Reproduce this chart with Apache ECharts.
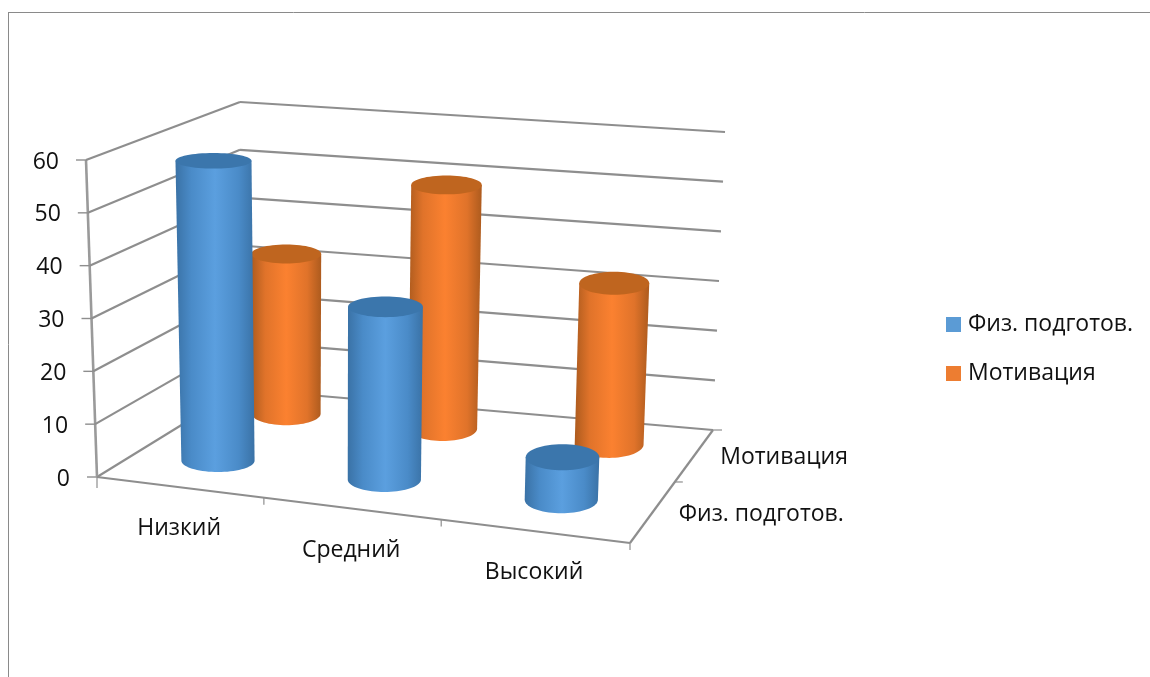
<!DOCTYPE html>
<html>
<head>
<meta charset="utf-8">
<style>html,body{margin:0;padding:0;background:#fff}#c{width:1150px;height:677px}</style>
<script src="https://cdn.jsdelivr.net/npm/echarts@6/dist/echarts.min.js"></script>
</head>
<body>
<div id="c"></div>
<script>
// Chart values
const categories = ['Низкий', 'Средний', 'Высокий'];
const seriesNames = ['Физ. подготов.', 'Мотивация'];
const physical = [58, 33, 8];
const motivation = [32.5, 49, 32];
const valueTicks = [0, 10, 20, 30, 40, 50, 60];

// Flat plotting rectangle used by the axes; values are then lifted onto the 3D box
const GRID = { left: 97, top: 160, width: 533, height: 317 };
const FONT = '"Open Sans", "Noto Sans", sans-serif';
const FONT_SIZE = 23;
const LINE = '#8e8e8e';
const TEXT = '#111111';

// Box corners on screen: [depth][height][across]
const BOX = [
  [[[97, 477], [630, 543]], [[86, 160], [643, 214]]],
  [[[240, 389], [713, 430]], [[240, 102], [725, 132]]]
];
const lerp = (a, b, t) => a + (b - a) * t;
const mix = (p, q, t) => [lerp(p[0], q[0], t), lerp(p[1], q[1], t)];
// Foreshortening along the category direction
const warp = u => u / (u + 1.097 * (1 - u));
function project(u0, v, w) {
  const u = warp(u0);
  const near = mix(mix(BOX[0][0][0], BOX[0][0][1], u), mix(BOX[0][1][0], BOX[0][1][1], u), v);
  const far = mix(mix(BOX[1][0][0], BOX[1][0][1], u), mix(BOX[1][1][0], BOX[1][1][1], u), v);
  return mix(near, far, w);
}
const toUV = p => [(p[0] - GRID.left) / GRID.width, (GRID.top + GRID.height - p[1]) / GRID.height];

const seg = (a, b, width, color) => ({
  type: 'line', silent: true,
  shape: { x1: a[0], y1: a[1], x2: b[0], y2: b[1] },
  style: { stroke: color || LINE, lineWidth: width || 2.2 }
});

// Walls, floor and tick marks
function renderWall(params, api) {
  const v = toUV(api.coord([0, api.value(1)]))[1];
  const front = project(0, v, 0), back = project(0, v, 1), right = project(1, v, 1);
  const kids = [seg(front, back), seg(back, right), seg(front, [front[0] - 10, front[1]], 1.4)];
  if (v === 0) {
    const corner = project(1, 0, 0);
    const mid = project(1, 0, 0.54);
    kids.push(seg(front, project(0, 1, 0), 2.6, '#9a9a9a'));
    kids.push(seg(front, corner), seg(corner, right));
    kids.push(seg(front, [front[0], front[1] + 11], 1.2));
    [1, 2, 3].forEach(i => {
      const p = project(i / categories.length, 0, 0);
      kids.push(seg(p, [p[0], p[1] + 7], 1.2));
    });
    kids.push(seg(mid, [mid[0] + 8, mid[1]], 1.2));
    kids.push(seg(right, [right[0] + 9, right[1]], 1.2));
  }
  return { type: 'group', children: kids };
}

// Labels along the floor edges
function renderCategoryLabel(params, api) {
  const u = toUV(api.coord([api.value(0), 0]))[0];
  const p = project(u, 0, 0);
  return {
    type: 'text', silent: true,
    style: { x: p[0], y: p[1] + 41.5, text: categories[params.dataIndex], fill: TEXT,
      font: FONT_SIZE + 'px ' + FONT, textAlign: 'center', textVerticalAlign: 'middle' }
  };
}
function renderDepthLabel(params, api) {
  const p = project(1, 0, api.value(0) === 0 ? 0.25 : 0.75);
  return {
    type: 'text', silent: true,
    style: { x: p[0] + 28, y: p[1] - 0.5, text: seriesNames[params.dataIndex], fill: TEXT,
      font: FONT_SIZE + 'px ' + FONT, textAlign: 'left', textVerticalAlign: 'middle' }
  };
}

// Upright cylinder standing at a given depth in the box
function cylinder(depth, palette) {
  return function (params, api) {
    const base = api.coord([api.value(0), 0]);
    const tip = api.coord([api.value(0), api.value(1)]);
    const u = toUV(base)[0];
    const v = toUV(tip)[1];
    const b = project(u, 0, depth), t = project(u, v, depth);
    const rxAt = h => 0.071 * (project(1, h, depth)[0] - project(0, h, depth)[0]);
    const ryAt = h => 0.125 * Math.abs(project(u, h, 1)[1] - project(u, h, 0)[1]);
    const rb = rxAt(0), rt = rxAt(v), hb = ryAt(0), ht = ryAt(v);
    const pts = [[t[0] - rt, t[1]]];
    for (let i = 0; i <= 36; i++) {
      const a = Math.PI * i / 36;
      pts.push([b[0] - rb * Math.cos(a), b[1] + hb * Math.sin(a)]);
    }
    pts.push([t[0] + rt, t[1]]);
    return {
      type: 'group',
      children: [
        { type: 'polygon', silent: true, shape: { points: pts },
          style: { fill: { type: 'linear', x: 0, y: 0, x2: 1, y2: 0, colorStops: [
            { offset: 0, color: palette.edge }, { offset: 0.2, color: palette.mid },
            { offset: 0.5, color: palette.light }, { offset: 0.8, color: palette.mid },
            { offset: 1, color: palette.edge } ] } } },
        { type: 'ellipse', silent: true, shape: { cx: t[0], cy: t[1], rx: rt, ry: ht },
          style: { fill: palette.cap } }
      ]
    };
  };
}

const BLUE = { edge: '#3a72a6', mid: '#4a8bc8', light: '#5b9fdf', cap: '#3b76ac' };
const ORANGE = { edge: '#ad5b1e', mid: '#e0732a', light: '#fb8130', cap: '#bf651f' };

const chart = echarts.init(document.getElementById('c'), null, { renderer: 'canvas' });
const richTicks = {};
valueTicks.forEach(t => {
  const x = project(0, t / 60, 0)[0];
  richTicks['t' + t] = { fontFamily: FONT, fontSize: FONT_SIZE, color: TEXT, padding: [4, 27 + GRID.left - x, 0, 0] };
});

chart.setOption({
  animation: false,
  backgroundColor: '#ffffff',
  grid: Object.assign({ containLabel: false }, GRID),
  xAxis: { type: 'category', data: categories, show: false },
  yAxis: {
    type: 'value', min: 0, max: 60, interval: 10,
    axisLine: { show: false }, axisTick: { show: false }, splitLine: { show: false },
    axisLabel: { margin: 0, formatter: v => '{t' + v + '|' + v + '}', rich: richTicks }
  },
  legend: {
    orient: 'vertical', left: 946, top: 313, padding: 0, itemWidth: 15, itemHeight: 15, itemGap: 26,
    icon: 'rect', data: seriesNames,
    textStyle: { fontFamily: FONT, fontSize: FONT_SIZE, color: TEXT, lineHeight: 15, padding: [0, 0, 0, 2] }
  },
  graphic: [
    { type: 'line', shape: { x1: 8, y1: 12.5, x2: 1150, y2: 12.5 }, style: { stroke: '#8a8a8a', lineWidth: 1 }, silent: true },
    { type: 'line', shape: { x1: 8.5, y1: 12, x2: 8.5, y2: 677 }, style: { stroke: '#8a8a8a', lineWidth: 1 }, silent: true }
  ],
  series: [
    { name: 'walls', type: 'custom', z: 1, clip: false, renderItem: renderWall,
      data: valueTicks.map(t => [0, t]), encode: { x: 0, y: 1 } },
    { name: 'categoryLabels', type: 'custom', z: 1, clip: false, renderItem: renderCategoryLabel,
      data: categories.map((c, i) => [i, 0]), encode: { x: 0, y: 1 } },
    { name: 'depthLabels', type: 'custom', z: 1, clip: false, renderItem: renderDepthLabel,
      data: seriesNames.map((c, i) => [i, 0]), encode: { x: 0, y: 1 } },
    { name: seriesNames[1], type: 'custom', z: 2, clip: false, itemStyle: { color: '#ed7d31' },
      renderItem: cylinder(0.8, ORANGE), data: motivation.map((m, i) => [i, m]), encode: { x: 0, y: 1 } },
    { name: seriesNames[0], type: 'custom', z: 3, clip: false, itemStyle: { color: '#5b9bd5' },
      renderItem: cylinder(0.29, BLUE), data: physical.map((m, i) => [i, m]), encode: { x: 0, y: 1 } }
  ]
});
</script>
</body>
</html>
